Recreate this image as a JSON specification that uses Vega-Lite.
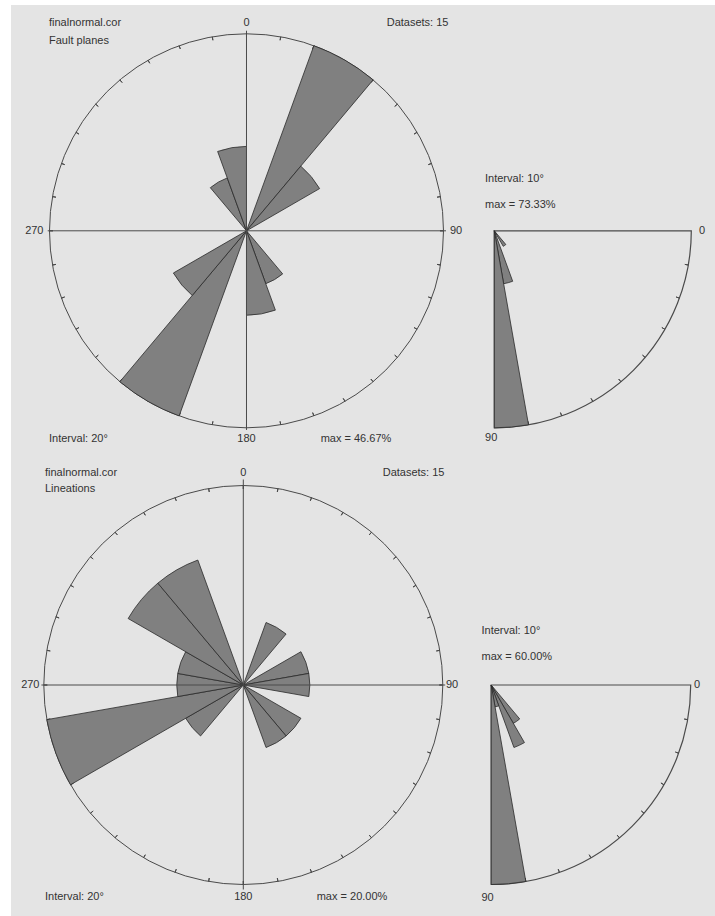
{
  "$schema": "https://vega.github.io/schema/vega-lite/v6.json",
  "background": "#ffffff",
  "padding": {"left": 11, "top": 5, "right": 0, "bottom": 0},
  "spacing": 0,
  "config": {
    "view": {"stroke": null, "fill": "#e4e4e4"},
    "text": {"font": "Liberation Sans", "fontSize": 11, "color": "#333333", "baseline": "middle"}
  },
  "datasets": {
    "one": [{}],
    "faults": [
      {"from": 20, "to": 40, "pct": 46.67},
      {"from": 40, "to": 60, "pct": 20},
      {"from": 140, "to": 160, "pct": 13.33},
      {"from": 160, "to": 180, "pct": 20},
      {"from": 200, "to": 220, "pct": 46.67},
      {"from": 220, "to": 240, "pct": 20},
      {"from": 320, "to": 340, "pct": 13.33},
      {"from": 340, "to": 360, "pct": 20}
    ],
    "faultDips": [
      {"from": 50, "to": 60, "pct": 6.67},
      {"from": 70, "to": 80, "pct": 20},
      {"from": 80, "to": 90, "pct": 73.33}
    ],
    "lineations": [
      {"from": 20, "to": 40, "pct": 6.67},
      {"from": 60, "to": 80, "pct": 6.67},
      {"from": 80, "to": 100, "pct": 6.67},
      {"from": 120, "to": 140, "pct": 6.67},
      {"from": 140, "to": 160, "pct": 6.67},
      {"from": 220, "to": 240, "pct": 6.67},
      {"from": 240, "to": 260, "pct": 20},
      {"from": 260, "to": 280, "pct": 6.67},
      {"from": 280, "to": 300, "pct": 6.67},
      {"from": 300, "to": 320, "pct": 13.33},
      {"from": 320, "to": 340, "pct": 13.33}
    ],
    "lineationPlunges": [
      {"from": 50, "to": 60, "pct": 13.33},
      {"from": 60, "to": 70, "pct": 20},
      {"from": 70, "to": 80, "pct": 6.67},
      {"from": 80, "to": 90, "pct": 60}
    ],
    "azimuthTicks": [
      {"a": 0}, {"a": 10}, {"a": 20}, {"a": 30}, {"a": 40}, {"a": 50}, {"a": 60}, {"a": 70}, {"a": 80},
      {"a": 90}, {"a": 100}, {"a": 110}, {"a": 120}, {"a": 130}, {"a": 140}, {"a": 150}, {"a": 160}, {"a": 170},
      {"a": 180}, {"a": 190}, {"a": 200}, {"a": 210}, {"a": 220}, {"a": 230}, {"a": 240}, {"a": 250}, {"a": 260},
      {"a": 270}, {"a": 280}, {"a": 290}, {"a": 300}, {"a": 310}, {"a": 320}, {"a": 330}, {"a": 340}, {"a": 350}
    ],
    "dipTicks": [
      {"a": 10}, {"a": 20}, {"a": 30}, {"a": 40}, {"a": 50}, {"a": 60}, {"a": 70}, {"a": 80}
    ]
  },
  "vconcat": [
    {
      "width": 704,
      "height": 453,
      "resolve": {"scale": {"theta": "independent", "radius": "independent"}},
      "layer": [
        {
          "data": {"name": "one"},
          "mark": {"type": "arc", "theta": 0, "theta2": 6.283185307179586, "radius": 197, "filled": false, "stroke": "#4a4a4a", "strokeWidth": 1},
          "encoding": {
            "x": {"datum": 0, "type": "quantitative", "scale": {"domain": [-1.19543, 2.37817], "nice": false, "zero": false}, "axis": null},
            "y": {"datum": 0, "type": "quantitative", "scale": {"domain": [-1.1533, 1.14619], "nice": false, "zero": false}, "axis": null}
          }
        },
        {
          "data": {"name": "azimuthTicks"},
          "mark": {"type": "arc", "radius": 197, "radius2": 193.5, "filled": false, "stroke": "#4a4a4a", "strokeWidth": 1},
          "encoding": {
            "x": {"datum": 0, "type": "quantitative", "scale": {"domain": [-1.19543, 2.37817], "nice": false, "zero": false}, "axis": null},
            "y": {"datum": 0, "type": "quantitative", "scale": {"domain": [-1.1533, 1.14619], "nice": false, "zero": false}, "axis": null},
            "theta": {"field": "a", "type": "quantitative", "stack": null, "scale": {"domain": [0, 360], "range": [0, 6.283185307179586]}},
            "theta2": {"field": "a"}
          }
        },
        {
          "data": {"name": "faults"},
          "mark": {"type": "arc", "fill": "#808080", "stroke": "#2a2a2a", "strokeWidth": 0.8},
          "encoding": {
            "x": {"datum": 0, "type": "quantitative", "scale": {"domain": [-1.19543, 2.37817], "nice": false, "zero": false}, "axis": null},
            "y": {"datum": 0, "type": "quantitative", "scale": {"domain": [-1.1533, 1.14619], "nice": false, "zero": false}, "axis": null},
            "theta": {"field": "from", "type": "quantitative", "stack": null, "scale": {"domain": [0, 360], "range": [0, 6.283185307179586]}},
            "theta2": {"field": "to"},
            "radius": {"field": "pct", "type": "quantitative", "scale": {"type": "linear", "zero": true, "nice": false, "range": [0, 197]}}
          }
        },
        {
          "data": {"name": "one"},
          "mark": {"type": "rule", "stroke": "#4a4a4a", "strokeWidth": 1},
          "encoding": {
            "x": {"datum": 0, "type": "quantitative", "scale": {"domain": [-1.19543, 2.37817], "nice": false, "zero": false}, "axis": null},
            "y": {"datum": -1.011, "type": "quantitative", "scale": {"domain": [-1.1533, 1.14619], "nice": false, "zero": false}, "axis": null},
            "y2": {"datum": 1.0157}
          }
        },
        {
          "data": {"name": "one"},
          "mark": {"type": "rule", "stroke": "#4a4a4a", "strokeWidth": 1},
          "encoding": {
            "y": {"datum": 0, "type": "quantitative", "scale": {"domain": [-1.1533, 1.14619], "nice": false, "zero": false}, "axis": null},
            "x": {"datum": -1.009, "type": "quantitative", "scale": {"domain": [-1.19543, 2.37817], "nice": false, "zero": false}, "axis": null},
            "x2": {"datum": 1.0127}
          }
        },
        {
          "data": {"name": "one"},
          "mark": {"type": "arc", "theta": 1.5707963267948966, "theta2": 3.141592653589793, "radius": 197, "filled": false, "stroke": "#4a4a4a", "strokeWidth": 1.2},
          "encoding": {
            "x": {"datum": 1.2579, "type": "quantitative", "scale": {"domain": [-1.19543, 2.37817], "nice": false, "zero": false}, "axis": null},
            "y": {"datum": 0, "type": "quantitative", "scale": {"domain": [-1.1533, 1.14619], "nice": false, "zero": false}, "axis": null}
          }
        },
        {
          "data": {"name": "dipTicks"},
          "mark": {"type": "arc", "radius": 197, "radius2": 193.5, "filled": false, "stroke": "#4a4a4a", "strokeWidth": 1},
          "encoding": {
            "x": {"datum": 1.2579, "type": "quantitative", "scale": {"domain": [-1.19543, 2.37817], "nice": false, "zero": false}, "axis": null},
            "y": {"datum": 0, "type": "quantitative", "scale": {"domain": [-1.1533, 1.14619], "nice": false, "zero": false}, "axis": null},
            "theta": {"field": "a", "type": "quantitative", "stack": null, "scale": {"domain": [0, 90], "range": [1.5707963267948966, 3.141592653589793]}},
            "theta2": {"field": "a"}
          }
        },
        {
          "data": {"name": "faultDips"},
          "mark": {"type": "arc", "fill": "#808080", "stroke": "#2a2a2a", "strokeWidth": 0.8},
          "encoding": {
            "x": {"datum": 1.2579, "type": "quantitative", "scale": {"domain": [-1.19543, 2.37817], "nice": false, "zero": false}, "axis": null},
            "y": {"datum": 0, "type": "quantitative", "scale": {"domain": [-1.1533, 1.14619], "nice": false, "zero": false}, "axis": null},
            "theta": {"field": "from", "type": "quantitative", "stack": null, "scale": {"domain": [0, 90], "range": [1.5707963267948966, 3.141592653589793]}},
            "theta2": {"field": "to"},
            "radius": {"field": "pct", "type": "quantitative", "scale": {"type": "linear", "zero": true, "nice": false, "range": [0, 197]}}
          }
        },
        {
          "data": {"name": "one"},
          "mark": {"type": "text", "align": "left"},
          "encoding": {
            "x": {"datum": -1.0025, "type": "quantitative", "scale": {"domain": [-1.19543, 2.37817], "nice": false, "zero": false}, "axis": null},
            "y": {"datum": 1.0523, "type": "quantitative", "scale": {"domain": [-1.1533, 1.14619], "nice": false, "zero": false}, "axis": null},
            "text": {"value": "finalnormal.cor"}
          }
        },
        {
          "data": {"name": "one"},
          "mark": {"type": "text", "align": "left"},
          "encoding": {
            "x": {"datum": -1.0025, "type": "quantitative", "scale": {"domain": [-1.19543, 2.37817], "nice": false, "zero": false}, "axis": null},
            "y": {"datum": 0.965, "type": "quantitative", "scale": {"domain": [-1.1533, 1.14619], "nice": false, "zero": false}, "axis": null},
            "text": {"value": "Fault planes"}
          }
        },
        {
          "data": {"name": "one"},
          "mark": {"type": "text", "align": "center"},
          "encoding": {
            "x": {"datum": 0, "type": "quantitative", "scale": {"domain": [-1.19543, 2.37817], "nice": false, "zero": false}, "axis": null},
            "y": {"datum": 1.0523, "type": "quantitative", "scale": {"domain": [-1.1533, 1.14619], "nice": false, "zero": false}, "axis": null},
            "text": {"value": "0"}
          }
        },
        {
          "data": {"name": "one"},
          "mark": {"type": "text", "align": "left"},
          "encoding": {
            "x": {"datum": 0.7117, "type": "quantitative", "scale": {"domain": [-1.19543, 2.37817], "nice": false, "zero": false}, "axis": null},
            "y": {"datum": 1.0523, "type": "quantitative", "scale": {"domain": [-1.1533, 1.14619], "nice": false, "zero": false}, "axis": null},
            "text": {"value": "Datasets: 15"}
          }
        },
        {
          "data": {"name": "one"},
          "mark": {"type": "text", "align": "right"},
          "encoding": {
            "x": {"datum": -1.0305, "type": "quantitative", "scale": {"domain": [-1.19543, 2.37817], "nice": false, "zero": false}, "axis": null},
            "y": {"datum": 0, "type": "quantitative", "scale": {"domain": [-1.1533, 1.14619], "nice": false, "zero": false}, "axis": null},
            "text": {"value": "270"}
          }
        },
        {
          "data": {"name": "one"},
          "mark": {"type": "text", "align": "left"},
          "encoding": {
            "x": {"datum": 1.033, "type": "quantitative", "scale": {"domain": [-1.19543, 2.37817], "nice": false, "zero": false}, "axis": null},
            "y": {"datum": 0, "type": "quantitative", "scale": {"domain": [-1.1533, 1.14619], "nice": false, "zero": false}, "axis": null},
            "text": {"value": "90"}
          }
        },
        {
          "data": {"name": "one"},
          "mark": {"type": "text", "align": "left"},
          "encoding": {
            "x": {"datum": -1.0025, "type": "quantitative", "scale": {"domain": [-1.19543, 2.37817], "nice": false, "zero": false}, "axis": null},
            "y": {"datum": -1.0584, "type": "quantitative", "scale": {"domain": [-1.1533, 1.14619], "nice": false, "zero": false}, "axis": null},
            "text": {"value": "Interval: 20°"}
          }
        },
        {
          "data": {"name": "one"},
          "mark": {"type": "text", "align": "center"},
          "encoding": {
            "x": {"datum": 0, "type": "quantitative", "scale": {"domain": [-1.19543, 2.37817], "nice": false, "zero": false}, "axis": null},
            "y": {"datum": -1.0584, "type": "quantitative", "scale": {"domain": [-1.1533, 1.14619], "nice": false, "zero": false}, "axis": null},
            "text": {"value": "180"}
          }
        },
        {
          "data": {"name": "faults"},
          "transform": [
            {"aggregate": [{"op": "max", "field": "pct", "as": "mx"}]},
            {"calculate": "'max = ' + format(datum.mx, '.2f') + '%'", "as": "label"}
          ],
          "mark": {"type": "text", "align": "left"},
          "encoding": {
            "x": {"datum": 0.3766, "type": "quantitative", "scale": {"domain": [-1.19543, 2.37817], "nice": false, "zero": false}, "axis": null},
            "y": {"datum": -1.0584, "type": "quantitative", "scale": {"domain": [-1.1533, 1.14619], "nice": false, "zero": false}, "axis": null},
            "text": {"field": "label", "type": "nominal"}
          }
        },
        {
          "data": {"name": "one"},
          "mark": {"type": "text", "align": "left"},
          "encoding": {
            "x": {"datum": 1.2107, "type": "quantitative", "scale": {"domain": [-1.19543, 2.37817], "nice": false, "zero": false}, "axis": null},
            "y": {"datum": 0.2629, "type": "quantitative", "scale": {"domain": [-1.1533, 1.14619], "nice": false, "zero": false}, "axis": null},
            "text": {"value": "Interval: 10°"}
          }
        },
        {
          "data": {"name": "faultDips"},
          "transform": [
            {"aggregate": [{"op": "max", "field": "pct", "as": "mx"}]},
            {"calculate": "'max = ' + format(datum.mx, '.2f') + '%'", "as": "label"}
          ],
          "mark": {"type": "text", "align": "left"},
          "encoding": {
            "x": {"datum": 1.2107, "type": "quantitative", "scale": {"domain": [-1.19543, 2.37817], "nice": false, "zero": false}, "axis": null},
            "y": {"datum": 0.131, "type": "quantitative", "scale": {"domain": [-1.1533, 1.14619], "nice": false, "zero": false}, "axis": null},
            "text": {"field": "label", "type": "nominal"}
          }
        },
        {
          "data": {"name": "one"},
          "mark": {"type": "text", "align": "left"},
          "encoding": {
            "x": {"datum": 2.297, "type": "quantitative", "scale": {"domain": [-1.19543, 2.37817], "nice": false, "zero": false}, "axis": null},
            "y": {"datum": 0, "type": "quantitative", "scale": {"domain": [-1.1533, 1.14619], "nice": false, "zero": false}, "axis": null},
            "text": {"value": "0"}
          }
        },
        {
          "data": {"name": "one"},
          "mark": {"type": "text", "align": "left"},
          "encoding": {
            "x": {"datum": 1.2107, "type": "quantitative", "scale": {"domain": [-1.19543, 2.37817], "nice": false, "zero": false}, "axis": null},
            "y": {"datum": -1.0533, "type": "quantitative", "scale": {"domain": [-1.1533, 1.14619], "nice": false, "zero": false}, "axis": null},
            "text": {"value": "90"}
          }
        }
      ]
    },
    {
      "width": 704,
      "height": 458,
      "resolve": {"scale": {"theta": "independent", "radius": "independent"}},
      "layer": [
        {
          "data": {"name": "one"},
          "mark": {"type": "arc", "theta": 0, "theta2": 6.283185307179586, "radius": 199.5, "filled": false, "stroke": "#4a4a4a", "strokeWidth": 1},
          "encoding": {
            "x": {"datum": 0, "type": "quantitative", "scale": {"domain": [-1.16441, 2.36441], "nice": false, "zero": false}, "axis": null},
            "y": {"datum": 0, "type": "quantitative", "scale": {"domain": [-1.15789, 1.13784], "nice": false, "zero": false}, "axis": null}
          }
        },
        {
          "data": {"name": "azimuthTicks"},
          "mark": {"type": "arc", "radius": 199.5, "radius2": 196, "filled": false, "stroke": "#4a4a4a", "strokeWidth": 1},
          "encoding": {
            "x": {"datum": 0, "type": "quantitative", "scale": {"domain": [-1.16441, 2.36441], "nice": false, "zero": false}, "axis": null},
            "y": {"datum": 0, "type": "quantitative", "scale": {"domain": [-1.15789, 1.13784], "nice": false, "zero": false}, "axis": null},
            "theta": {"field": "a", "type": "quantitative", "stack": null, "scale": {"domain": [0, 360], "range": [0, 6.283185307179586]}},
            "theta2": {"field": "a"}
          }
        },
        {
          "data": {"name": "lineations"},
          "mark": {"type": "arc", "fill": "#808080", "stroke": "#2a2a2a", "strokeWidth": 0.8},
          "encoding": {
            "x": {"datum": 0, "type": "quantitative", "scale": {"domain": [-1.16441, 2.36441], "nice": false, "zero": false}, "axis": null},
            "y": {"datum": 0, "type": "quantitative", "scale": {"domain": [-1.15789, 1.13784], "nice": false, "zero": false}, "axis": null},
            "theta": {"field": "from", "type": "quantitative", "stack": null, "scale": {"domain": [0, 360], "range": [0, 6.283185307179586]}},
            "theta2": {"field": "to"},
            "radius": {"field": "pct", "type": "quantitative", "scale": {"type": "linear", "zero": true, "nice": false, "range": [0, 199.5]}}
          }
        },
        {
          "data": {"name": "one"},
          "mark": {"type": "rule", "stroke": "#4a4a4a", "strokeWidth": 1},
          "encoding": {
            "x": {"datum": 0, "type": "quantitative", "scale": {"domain": [-1.16441, 2.36441], "nice": false, "zero": false}, "axis": null},
            "y": {"datum": -1.025, "type": "quantitative", "scale": {"domain": [-1.15789, 1.13784], "nice": false, "zero": false}, "axis": null},
            "y2": {"datum": 1.03}
          }
        },
        {
          "data": {"name": "one"},
          "mark": {"type": "rule", "stroke": "#4a4a4a", "strokeWidth": 1},
          "encoding": {
            "y": {"datum": 0, "type": "quantitative", "scale": {"domain": [-1.15789, 1.13784], "nice": false, "zero": false}, "axis": null},
            "x": {"datum": -1.012, "type": "quantitative", "scale": {"domain": [-1.16441, 2.36441], "nice": false, "zero": false}, "axis": null},
            "x2": {"datum": 1.012}
          }
        },
        {
          "data": {"name": "one"},
          "mark": {"type": "arc", "theta": 1.5707963267948966, "theta2": 3.141592653589793, "radius": 199.5, "filled": false, "stroke": "#4a4a4a", "strokeWidth": 1.2},
          "encoding": {
            "x": {"datum": 1.2426, "type": "quantitative", "scale": {"domain": [-1.16441, 2.36441], "nice": false, "zero": false}, "axis": null},
            "y": {"datum": 0, "type": "quantitative", "scale": {"domain": [-1.15789, 1.13784], "nice": false, "zero": false}, "axis": null}
          }
        },
        {
          "data": {"name": "dipTicks"},
          "mark": {"type": "arc", "radius": 199.5, "radius2": 196, "filled": false, "stroke": "#4a4a4a", "strokeWidth": 1},
          "encoding": {
            "x": {"datum": 1.2426, "type": "quantitative", "scale": {"domain": [-1.16441, 2.36441], "nice": false, "zero": false}, "axis": null},
            "y": {"datum": 0, "type": "quantitative", "scale": {"domain": [-1.15789, 1.13784], "nice": false, "zero": false}, "axis": null},
            "theta": {"field": "a", "type": "quantitative", "stack": null, "scale": {"domain": [0, 90], "range": [1.5707963267948966, 3.141592653589793]}},
            "theta2": {"field": "a"}
          }
        },
        {
          "data": {"name": "lineationPlunges"},
          "mark": {"type": "arc", "fill": "#808080", "stroke": "#2a2a2a", "strokeWidth": 0.8},
          "encoding": {
            "x": {"datum": 1.2426, "type": "quantitative", "scale": {"domain": [-1.16441, 2.36441], "nice": false, "zero": false}, "axis": null},
            "y": {"datum": 0, "type": "quantitative", "scale": {"domain": [-1.15789, 1.13784], "nice": false, "zero": false}, "axis": null},
            "theta": {"field": "from", "type": "quantitative", "stack": null, "scale": {"domain": [0, 90], "range": [1.5707963267948966, 3.141592653589793]}},
            "theta2": {"field": "to"},
            "radius": {"field": "pct", "type": "quantitative", "scale": {"type": "linear", "zero": true, "nice": false, "range": [0, 199.5]}}
          }
        },
        {
          "data": {"name": "one"},
          "mark": {"type": "text", "align": "left"},
          "encoding": {
            "x": {"datum": -0.994, "type": "quantitative", "scale": {"domain": [-1.16441, 2.36441], "nice": false, "zero": false}, "axis": null},
            "y": {"datum": 1.0642, "type": "quantitative", "scale": {"domain": [-1.15789, 1.13784], "nice": false, "zero": false}, "axis": null},
            "text": {"value": "finalnormal.cor"}
          }
        },
        {
          "data": {"name": "one"},
          "mark": {"type": "text", "align": "left"},
          "encoding": {
            "x": {"datum": -0.994, "type": "quantitative", "scale": {"domain": [-1.16441, 2.36441], "nice": false, "zero": false}, "axis": null},
            "y": {"datum": 0.981, "type": "quantitative", "scale": {"domain": [-1.15789, 1.13784], "nice": false, "zero": false}, "axis": null},
            "text": {"value": "Lineations"}
          }
        },
        {
          "data": {"name": "one"},
          "mark": {"type": "text", "align": "center"},
          "encoding": {
            "x": {"datum": 0, "type": "quantitative", "scale": {"domain": [-1.16441, 2.36441], "nice": false, "zero": false}, "axis": null},
            "y": {"datum": 1.0642, "type": "quantitative", "scale": {"domain": [-1.15789, 1.13784], "nice": false, "zero": false}, "axis": null},
            "text": {"value": "0"}
          }
        },
        {
          "data": {"name": "one"},
          "mark": {"type": "text", "align": "left"},
          "encoding": {
            "x": {"datum": 0.6987, "type": "quantitative", "scale": {"domain": [-1.16441, 2.36441], "nice": false, "zero": false}, "axis": null},
            "y": {"datum": 1.0642, "type": "quantitative", "scale": {"domain": [-1.15789, 1.13784], "nice": false, "zero": false}, "axis": null},
            "text": {"value": "Datasets: 15"}
          }
        },
        {
          "data": {"name": "one"},
          "mark": {"type": "text", "align": "right"},
          "encoding": {
            "x": {"datum": -1.0216, "type": "quantitative", "scale": {"domain": [-1.16441, 2.36441], "nice": false, "zero": false}, "axis": null},
            "y": {"datum": 0, "type": "quantitative", "scale": {"domain": [-1.15789, 1.13784], "nice": false, "zero": false}, "axis": null},
            "text": {"value": "270"}
          }
        },
        {
          "data": {"name": "one"},
          "mark": {"type": "text", "align": "left"},
          "encoding": {
            "x": {"datum": 1.016, "type": "quantitative", "scale": {"domain": [-1.16441, 2.36441], "nice": false, "zero": false}, "axis": null},
            "y": {"datum": 0, "type": "quantitative", "scale": {"domain": [-1.15789, 1.13784], "nice": false, "zero": false}, "axis": null},
            "text": {"value": "90"}
          }
        },
        {
          "data": {"name": "one"},
          "mark": {"type": "text", "align": "left"},
          "encoding": {
            "x": {"datum": -0.994, "type": "quantitative", "scale": {"domain": [-1.16441, 2.36441], "nice": false, "zero": false}, "axis": null},
            "y": {"datum": -1.0611, "type": "quantitative", "scale": {"domain": [-1.15789, 1.13784], "nice": false, "zero": false}, "axis": null},
            "text": {"value": "Interval: 20°"}
          }
        },
        {
          "data": {"name": "one"},
          "mark": {"type": "text", "align": "center"},
          "encoding": {
            "x": {"datum": 0, "type": "quantitative", "scale": {"domain": [-1.16441, 2.36441], "nice": false, "zero": false}, "axis": null},
            "y": {"datum": -1.0611, "type": "quantitative", "scale": {"domain": [-1.15789, 1.13784], "nice": false, "zero": false}, "axis": null},
            "text": {"value": "180"}
          }
        },
        {
          "data": {"name": "lineations"},
          "transform": [
            {"aggregate": [{"op": "max", "field": "pct", "as": "mx"}]},
            {"calculate": "'max = ' + format(datum.mx, '.2f') + '%'", "as": "label"}
          ],
          "mark": {"type": "text", "align": "left"},
          "encoding": {
            "x": {"datum": 0.3679, "type": "quantitative", "scale": {"domain": [-1.16441, 2.36441], "nice": false, "zero": false}, "axis": null},
            "y": {"datum": -1.0611, "type": "quantitative", "scale": {"domain": [-1.15789, 1.13784], "nice": false, "zero": false}, "axis": null},
            "text": {"field": "label", "type": "nominal"}
          }
        },
        {
          "data": {"name": "one"},
          "mark": {"type": "text", "align": "left"},
          "encoding": {
            "x": {"datum": 1.194, "type": "quantitative", "scale": {"domain": [-1.16441, 2.36441], "nice": false, "zero": false}, "axis": null},
            "y": {"datum": 0.2707, "type": "quantitative", "scale": {"domain": [-1.15789, 1.13784], "nice": false, "zero": false}, "axis": null},
            "text": {"value": "Interval: 10°"}
          }
        },
        {
          "data": {"name": "lineationPlunges"},
          "transform": [
            {"aggregate": [{"op": "max", "field": "pct", "as": "mx"}]},
            {"calculate": "'max = ' + format(datum.mx, '.2f') + '%'", "as": "label"}
          ],
          "mark": {"type": "text", "align": "left"},
          "encoding": {
            "x": {"datum": 1.194, "type": "quantitative", "scale": {"domain": [-1.16441, 2.36441], "nice": false, "zero": false}, "axis": null},
            "y": {"datum": 0.1388, "type": "quantitative", "scale": {"domain": [-1.15789, 1.13784], "nice": false, "zero": false}, "axis": null},
            "text": {"field": "label", "type": "nominal"}
          }
        },
        {
          "data": {"name": "one"},
          "mark": {"type": "text", "align": "left"},
          "encoding": {
            "x": {"datum": 2.2591, "type": "quantitative", "scale": {"domain": [-1.16441, 2.36441], "nice": false, "zero": false}, "axis": null},
            "y": {"datum": 0, "type": "quantitative", "scale": {"domain": [-1.15789, 1.13784], "nice": false, "zero": false}, "axis": null},
            "text": {"value": "0"}
          }
        },
        {
          "data": {"name": "one"},
          "mark": {"type": "text", "align": "left"},
          "encoding": {
            "x": {"datum": 1.194, "type": "quantitative", "scale": {"domain": [-1.16441, 2.36441], "nice": false, "zero": false}, "axis": null},
            "y": {"datum": -1.0692, "type": "quantitative", "scale": {"domain": [-1.15789, 1.13784], "nice": false, "zero": false}, "axis": null},
            "text": {"value": "90"}
          }
        }
      ]
    }
  ]
}
